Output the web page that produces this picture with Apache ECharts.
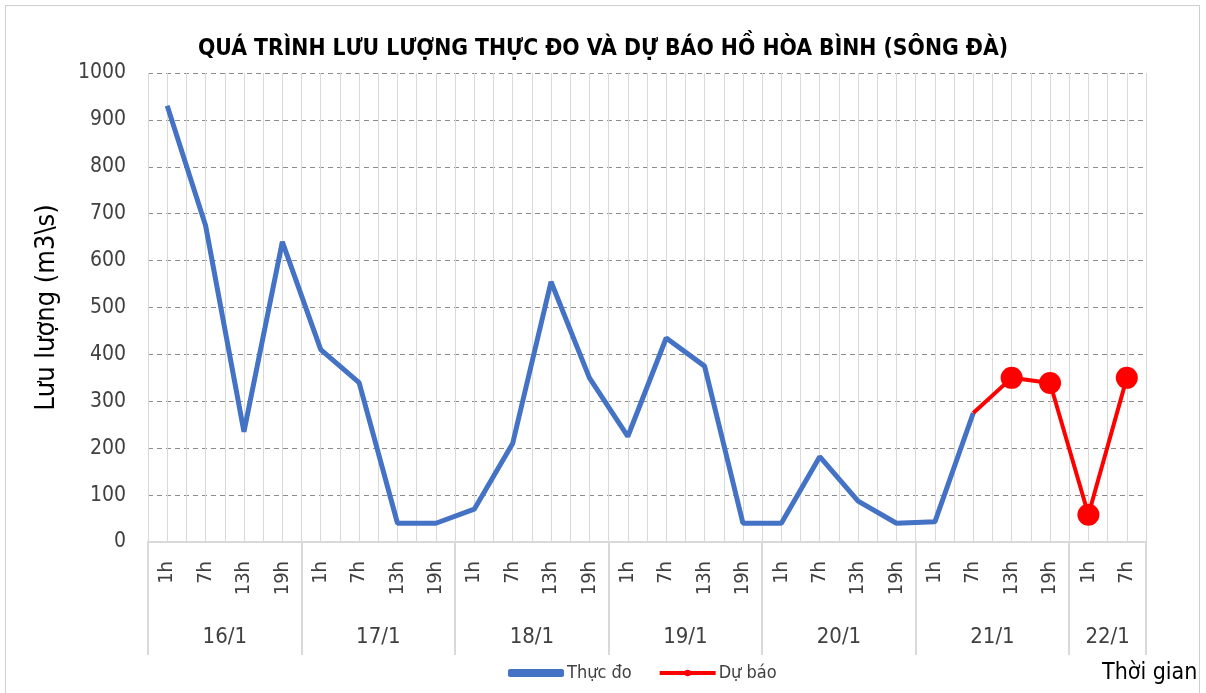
<!DOCTYPE html>
<html>
<head>
<meta charset="utf-8">
<script src="https://cdn.jsdelivr.net/npm/echarts@6/dist/echarts.min.js"></script>
<style>
html,body{margin:0;padding:0;background:#fff;}
#frame{position:absolute;left:5px;top:5px;width:1195px;height:700px;border:1px solid #cfcfcf;border-bottom:none;box-sizing:border-box;}
#chart{position:absolute;left:0;top:0;width:1206px;height:693px;}
</style>
</head>
<body>
<div id="chart"></div>
<div id="frame"></div>
<script>
// ---- data ----
var titleText = 'QUÁ TRÌNH LƯU LƯỢNG THỰC ĐO VÀ DỰ BÁO HỒ HÒA BÌNH (SÔNG ĐÀ)';
var yAxisName = 'Lưu lượng (m3\\s)';
var xAxisName = 'Thời gian';
var days = ['16/1', '17/1', '18/1', '19/1', '20/1', '21/1', '22/1'];
var dayHours = [
  ['1h', '7h', '13h', '19h'],
  ['1h', '7h', '13h', '19h'],
  ['1h', '7h', '13h', '19h'],
  ['1h', '7h', '13h', '19h'],
  ['1h', '7h', '13h', '19h'],
  ['1h', '7h', '13h', '19h'],
  ['1h', '7h']
];
var observedName = 'Thực đo';
var forecastName = 'Dự báo';
var observed = [930, 675, 235, 640, 410, 340, 40, 40, 70, 210, 555, 350, 225, 435, 375, 40, 40, 182, 87, 40, 43, 275];
var forecastStartIndex = 21;
var forecast = [275, 350, 339, 58, 350];
var yTicks = {min: 0, max: 1000, interval: 100};

// ---- build ----
var hourCats = [];
dayHours.forEach(function (h) { hourCats = hourCats.concat(h); });
var N = hourCats.length;

var obsData = hourCats.map(function (_, i) { return i < observed.length ? observed[i] : null; });
var fcData = hourCats.map(function (_, i) {
  var k = i - forecastStartIndex;
  if (k < 0 || k >= forecast.length) return null;
  if (k === 0) return {value: forecast[k], symbol: 'none'};
  return forecast[k];
});

// day axis: N+1 boundary points
var dayPoints = [];
for (var i = 0; i <= N; i++) dayPoints.push('');
var boundarySet = {0: true};
var labelIdx = {};
var pos = 0;
dayHours.forEach(function (h, d) {
  var center = pos + h.length / 2;
  dayPoints[center] = days[d];
  labelIdx[center] = true;
  pos += h.length;
  boundarySet[pos] = true;
});

var FONT = "'DejaVu Sans Condensed', 'Liberation Sans Narrow', 'Liberation Sans', sans-serif";
var TXT = '#404040';

var chart = echarts.init(document.getElementById('chart'), null, {renderer: 'canvas'});
chart.setOption({
  backgroundColor: '#fff',
  animation: false,
  title: [{
    text: titleText,
    left: 'center',
    top: 33,
    textStyle: {fontFamily: FONT, fontSize: 22.7, fontWeight: 'bold', color: '#000'}
  }, {
    text: xAxisName,
    left: 1097,
    top: 657,
    textStyle: {fontFamily: FONT, fontSize: 23, fontWeight: 'normal', color: '#000'}
  }],
  legend: {
    left: 503,
    top: 659,
    itemWidth: 56,
    itemHeight: 8,
    itemGap: 26,
    textStyle: {fontFamily: FONT, fontSize: 18, color: TXT, padding: [0, 0, 0, -2]},
    data: [
      {name: observedName, icon: 'roundRect'},
      {name: forecastName, lineStyle: {width: 4}}
    ]
  },
  grid: {left: 148, right: 60, top: 73, bottom: 151, containLabel: false},
  xAxis: [{
    type: 'category',
    data: hourCats,
    boundaryGap: true,
    position: 'bottom',
    axisLine: {show: true, lineStyle: {color: '#d9d9d9', width: 2}},
    axisTick: {show: false},
    axisLabel: {interval: 0, rotate: 90, margin: 19, fontFamily: FONT, fontSize: 20, color: TXT},
    splitLine: {show: false}
  }, {
    type: 'category',
    data: dayPoints,
    boundaryGap: false,
    position: 'bottom',
    axisLine: {show: false},
    axisTick: {
      show: true,
      length: 113,
      interval: function (idx) { return !!boundarySet[idx]; },
      lineStyle: {color: '#d9d9d9', width: 2}
    },
    axisLabel: {
      interval: function (idx) { return !!labelIdx[idx]; },
      margin: 84,
      fontFamily: FONT, fontSize: 22, color: TXT
    },
    splitLine: {show: false}
  }, {
    type: 'value',
    min: 0,
    max: N,
    interval: 0.5,
    position: 'top',
    axisLine: {show: false},
    axisTick: {show: false},
    axisLabel: {show: false},
    splitLine: {show: true, lineStyle: {color: '#d9d9d9', width: 1}}
  }],
  yAxis: {
    type: 'value',
    min: yTicks.min,
    max: yTicks.max,
    interval: yTicks.interval,
    name: yAxisName,
    nameLocation: 'middle',
    nameGap: 88,
    nameRotate: 90,
    nameTextStyle: {fontFamily: FONT, fontSize: 27, color: '#000'},
    axisLine: {show: false},
    axisTick: {show: false},
    axisLabel: {margin: 22, fontFamily: FONT, fontSize: 21, color: TXT, formatter: function (v) { return String(v); }},
    splitLine: {show: true, lineStyle: {color: '#8c8c8c', width: 1, type: [5, 4]}}
  },
  series: [{
    name: observedName,
    type: 'line',
    xAxisIndex: 0,
    data: obsData,
    symbol: 'none',
    lineStyle: {color: '#4472c4', width: 5},
    itemStyle: {color: '#4472c4'},
    z: 3
  }, {
    name: forecastName,
    type: 'line',
    xAxisIndex: 0,
    data: fcData,
    symbol: 'circle',
    symbolSize: 22,
    showAllSymbol: true,
    lineStyle: {color: '#ff0000', width: 4},
    itemStyle: {color: '#ff0000'},
    z: 4
  }]
});
</script>
</body>
</html>
